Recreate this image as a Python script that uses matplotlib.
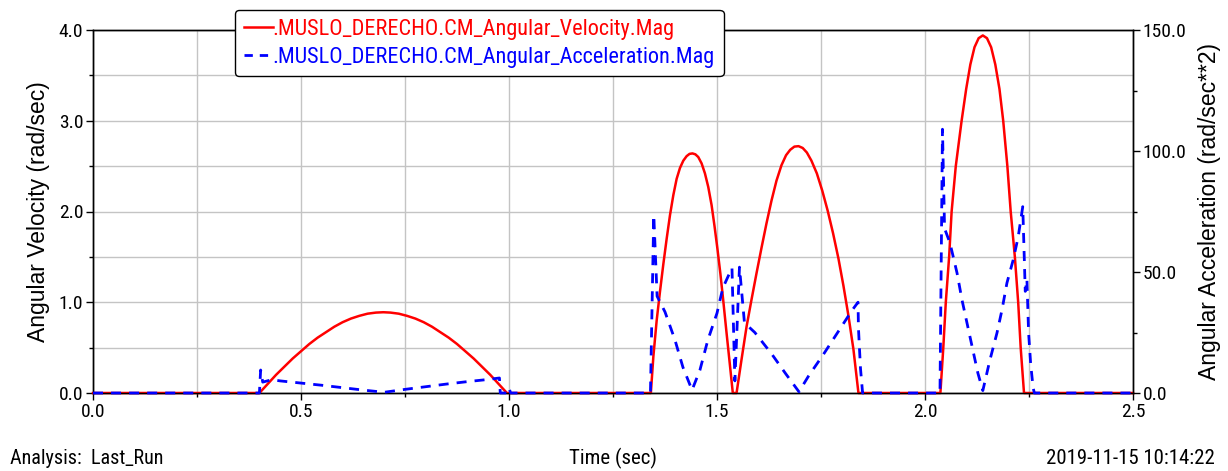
import matplotlib
matplotlib.use("Agg")
import matplotlib.pyplot as plt
from matplotlib import font_manager as fm
from matplotlib.ticker import MultipleLocator, FormatStrFormatter
from matplotlib.lines import Line2D

# Pick a narrow sans-serif face if one is available
_names = {f.name for f in fm.fontManager.ttflist}
_family, _stretch = 'Liberation Sans', 'normal'
for cand in ['Liberation Sans Narrow', 'Arial Narrow', 'Roboto Condensed',
             'Open Sans Condensed', 'Noto Sans Condensed']:
    if cand in _names:
        _family = cand
        break
else:
    if any(f.name == 'DejaVu Sans' and 'ondensed' in f.fname for f in fm.fontManager.ttflist):
        _family, _stretch = 'DejaVu Sans', 'condensed'
plt.rcParams['font.family'] = [_family, 'DejaVu Sans']
plt.rcParams['font.stretch'] = _stretch

# Angular velocity magnitude (rad/sec) vs time (sec)
vel_t = [0.0, 0.400, 0.420, 0.440, 0.460, 0.480, 0.500, 0.520, 0.540, 0.560, 0.580,
         0.600, 0.620, 0.640, 0.660, 0.680, 0.698, 0.715, 0.735, 0.755, 0.775,
         0.795, 0.815, 0.835, 0.855, 0.875, 0.895, 0.915, 0.935, 0.955, 0.975, 0.995,
         1.341, 1.347, 1.355, 1.363, 1.371, 1.379, 1.387, 1.395, 1.403, 1.411, 1.419,
         1.427, 1.434, 1.441, 1.448, 1.455, 1.463, 1.471, 1.479, 1.487, 1.494, 1.501,
         1.508, 1.515, 1.523, 1.531, 1.538,
         1.547, 1.559, 1.571, 1.583, 1.595, 1.607, 1.619, 1.631, 1.643, 1.655, 1.666,
         1.676, 1.686, 1.696, 1.706, 1.716, 1.727, 1.740, 1.753, 1.766, 1.779, 1.792,
         1.804, 1.816, 1.828, 1.840,
         2.037, 2.044, 2.050, 2.058, 2.064, 2.074, 2.088, 2.099, 2.109, 2.119, 2.129,
         2.139, 2.149, 2.159, 2.169, 2.179, 2.188, 2.198, 2.206, 2.216, 2.224, 2.230,
         2.238, 2.500]
vel_v = [0.0, 0.0, 0.10, 0.20, 0.29, 0.38, 0.46, 0.54, 0.61, 0.67, 0.73,
         0.78, 0.82, 0.85, 0.874, 0.886, 0.89, 0.886, 0.874, 0.85, 0.82,
         0.78, 0.73, 0.67, 0.61, 0.54, 0.46, 0.38, 0.29, 0.20, 0.10, 0.0,
         0.0, 0.40, 0.80, 1.12, 1.42, 1.70, 1.96, 2.18, 2.36, 2.48, 2.56,
         2.61, 2.635, 2.64, 2.63, 2.60, 2.53, 2.42, 2.27, 2.07, 1.84, 1.59,
         1.32, 1.02, 0.66, 0.31, 0.0,
         0.0, 0.37, 0.73, 1.03, 1.32, 1.60, 1.87, 2.12, 2.34, 2.51, 2.62,
         2.68, 2.715, 2.72, 2.70, 2.65, 2.56, 2.42, 2.23, 2.01, 1.76, 1.48,
         1.18, 0.85, 0.48, 0.0,
         0.0, 0.5, 1.0, 1.5, 2.0, 2.5, 3.0, 3.35, 3.62, 3.81, 3.91,
         3.94, 3.91, 3.81, 3.62, 3.35, 3.0, 2.5, 2.0, 1.5, 1.0, 0.5,
         0.0, 0.0]

# Angular acceleration magnitude (rad/sec**2) vs time (sec)
acc_t = [0.0, 0.400, 0.403, 0.408, 0.430, 0.450, 0.500, 0.550, 0.600, 0.650, 0.700,
         0.750, 0.800, 0.850, 0.900, 0.950, 0.977, 0.979, 0.996, 1.000, 1.004,
         1.340, 1.348, 1.356, 1.375, 1.399, 1.418, 1.440, 1.459, 1.478, 1.500,
         1.514, 1.536, 1.543, 1.554, 1.566, 1.591, 1.632, 1.665, 1.697, 1.720,
         1.756, 1.790, 1.824, 1.839, 1.840, 1.842, 1.845, 1.850,
         2.036, 2.042, 2.047, 2.060, 2.077, 2.089, 2.103, 2.115, 2.127, 2.139,
         2.156, 2.173, 2.185, 2.197, 2.212, 2.224, 2.235, 2.241, 2.245, 2.249,
         2.254, 2.260, 2.263, 2.500]
acc_v = [0.0, 0.0, 9.5, 4.5, 5.5, 5.0, 4.1, 3.2, 2.2, 1.2, 0.3,
         1.5, 2.6, 3.7, 4.7, 5.6, 6.2, 0.0, 0.0, 2.0, 0.0,
         0.0, 73.5, 40.0, 33.5, 21.9, 10.7, 1.2, 9.5, 21.9, 33.0,
         43.4, 51.7, 5.0, 52.0, 29.0, 25.0, 16.0, 8.0, 0.5, 7.0,
         16.0, 25.0, 34.0, 37.5, 27.0, 20.0, 10.0, 0.0,
         0.0, 109.0, 68.0, 62.0, 49.6, 38.4, 27.3, 17.8, 8.3, 1.0,
         13.6, 24.8, 34.3, 45.5, 55.0, 64.5, 77.0, 42.0, 47.0, 25.0,
         12.0, 2.0, 0.0, 0.0]

vel_label = ".MUSLO_DERECHO.CM_Angular_Velocity.Mag"
acc_label = ".MUSLO_DERECHO.CM_Angular_Acceleration.Mag"

W, H = 1228, 471
fig = plt.figure(figsize=(W / 100, H / 100), dpi=100)
ax = fig.add_axes([93 / W, 1 - 393 / H, (1133 - 93) / W, (393 - 30) / H])
ax2 = ax.twinx()

tick_fs = 14
grid_col = '#c4c4c4'
label_font = ['Liberation Sans', 'DejaVu Sans']

ax.set_xlim(0, 2.5)
ax.set_ylim(0, 4.0)
ax.xaxis.set_major_locator(MultipleLocator(0.5))
ax.xaxis.set_minor_locator(MultipleLocator(0.25))
ax.yaxis.set_major_locator(MultipleLocator(1.0))
ax.yaxis.set_minor_locator(MultipleLocator(0.5))
ax.xaxis.set_major_formatter(FormatStrFormatter('%.1f'))
ax.yaxis.set_major_formatter(FormatStrFormatter('%.1f'))
ax.grid(True, which='both', color=grid_col, linewidth=1.0)
ax.set_axisbelow(True)
ax.tick_params(axis='both', which='major', direction='out', length=5, width=1,
               labelsize=tick_fs, colors='black', pad=2)
ax.tick_params(axis='both', which='minor', direction='out', length=3, width=1)

ax2.set_ylim(0, 150)
ax2.yaxis.set_major_locator(MultipleLocator(50))
ax2.yaxis.set_minor_locator(MultipleLocator(25))
ax2.yaxis.set_major_formatter(FormatStrFormatter('%.1f'))
ax2.tick_params(axis='y', which='major', direction='out', length=5, width=1,
                labelsize=tick_fs, pad=2)
ax2.tick_params(axis='y', which='minor', direction='out', length=3, width=1)

for a in (ax, ax2):
    for s in a.spines.values():
        s.set_color('black')
        s.set_linewidth(1.0)

ax.set_ylabel("Angular Velocity (rad/sec)", fontsize=16.5, labelpad=6,
              family=label_font, stretch='normal')
ax2.set_ylabel("Angular Acceleration (rad/sec**2)", fontsize=16.5, labelpad=8,
               rotation=90, family=label_font, stretch='normal')

ax.plot(vel_t, vel_v, color='red', linewidth=1.8, zorder=3, clip_on=False)
ax2.plot(acc_t, acc_v, color='blue', linewidth=2.0, dashes=(3.6, 2.9), zorder=4,
         clip_on=False)

fig.text(10 / W, 1 - 458 / H, "Analysis:  Last_Run", fontsize=14.5, va='center', ha='left')
fig.text(613 / W, 1 - 458 / H, "Time (sec)", fontsize=15, va='center', ha='center')
fig.text(1215 / W, 1 - 458 / H, "2019-11-15 10:14:22", fontsize=15, va='center', ha='right')

handles = [Line2D([], [], color='red', linewidth=1.8),
           Line2D([], [], color='blue', linewidth=2.0, dashes=(3.0, 2.5))]
leg = fig.legend(handles, [vel_label, acc_label], loc='upper left',
                 bbox_to_anchor=(235 / W, 1 - 10 / H), fontsize=16,
                 handlelength=1.3, handletextpad=0.0, borderpad=0.4,
                 labelspacing=0.3, borderaxespad=0.0, frameon=True,
                 fancybox=True, edgecolor='black', framealpha=1.0)
leg.get_frame().set_linewidth(1.0)
for txt, col in zip(leg.get_texts(), ['red', 'blue']):
    txt.set_color(col)

fig.savefig("out.png", dpi=100)
